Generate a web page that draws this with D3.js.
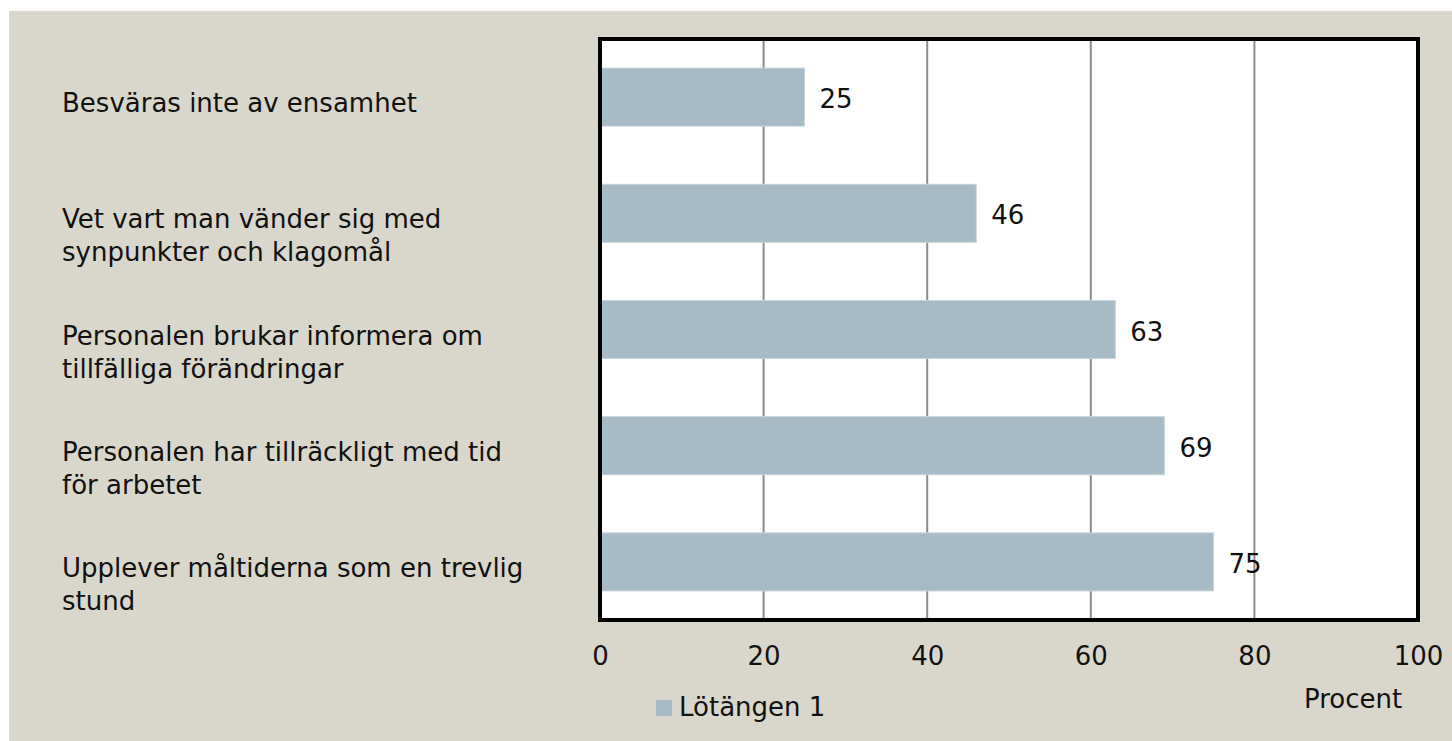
<!DOCTYPE html>
<html>
<head>
<meta charset="utf-8">
<script src="https://cdn.jsdelivr.net/npm/d3@7"></script>
<style>
  body { margin: 0; background: #fff; }
  svg text { font-family: 'DejaVu Sans', sans-serif; fill: #111; }
</style>
</head>
<body>
<svg id="chart" width="1452" height="741"></svg>
<script>
const categories = [
  'Besväras inte av ensamhet',
  'Vet vart man vänder sig med\nsynpunkter och klagomål',
  'Personalen brukar informera om\ntillfälliga förändringar',
  'Personalen har tillräckligt med tid\nför arbetet',
  'Upplever måltiderna som en trevlig\nstund'
];
const values = [25, 46, 63, 69, 75];
const tickValues = [0, 20, 40, 60, 80, 100];
const seriesName = 'Lötängen 1';
const axisTitle = 'Procent';

const svg = d3.select('#chart');
const fontSize = 26;

// beige panel
svg.append('rect')
  .attr('x', 9).attr('y', 11)
  .attr('width', 1452 - 9).attr('height', 741 - 11)
  .attr('fill', '#d9d7cb');

const plot = { left: 600, right: 1418, top: 39, bottom: 620 };

const x = d3.scaleLinear().domain([0, 100]).range([plot.left, plot.right]);
const y = d3.scaleBand()
  .domain(categories)
  .range([plot.top, plot.bottom])
  .paddingInner(0.5)
  .paddingOuter(0.25);

svg.append('rect')
  .attr('x', plot.left).attr('y', plot.top)
  .attr('width', plot.right - plot.left).attr('height', plot.bottom - plot.top)
  .attr('fill', '#fff');

// gridlines
svg.append('g')
  .selectAll('line')
  .data(tickValues.filter((d) => d > 0 && d < 100))
  .join('line')
  .attr('x1', (d) => x(d)).attr('x2', (d) => x(d))
  .attr('y1', plot.top).attr('y2', plot.bottom)
  .attr('stroke', '#8c8c8c')
  .attr('stroke-width', 2);

// bars
svg.append('g')
  .selectAll('rect')
  .data(values)
  .join('rect')
  .attr('x', x(0))
  .attr('y', (d, i) => y(categories[i]))
  .attr('width', (d) => x(d) - x(0))
  .attr('height', y.bandwidth())
  .attr('fill', '#a7bbc6')
  .attr('stroke', '#c9d5db')
  .attr('stroke-width', 1);

// frame
svg.append('rect')
  .attr('x', plot.left).attr('y', plot.top)
  .attr('width', plot.right - plot.left).attr('height', plot.bottom - plot.top)
  .attr('fill', 'none')
  .attr('stroke', '#000')
  .attr('stroke-width', 4);

// value labels
svg.append('g')
  .selectAll('text')
  .data(values)
  .join('text')
  .attr('x', (d) => x(d) + 15)
  .attr('y', (d, i) => y(categories[i]) + y.bandwidth() / 2 + 11)
  .style('font-size', fontSize + 'px')
  .text((d) => d);

// category labels
const cat = svg.append('g')
  .selectAll('text')
  .data(categories)
  .join('text')
  .attr('x', 62)
  .attr('y', (d) => y(d) + y.bandwidth() / 2 + 15)
  .style('font-size', fontSize + 'px');

cat.selectAll('tspan')
  .data((d) => d.split('\n'))
  .join('tspan')
  .attr('x', 62)
  .attr('dy', (d, i) => (i === 0 ? 0 : 33))
  .text((d) => d);

// x axis
const xAxis = svg.append('g')
  .attr('transform', `translate(0,${plot.bottom})`)
  .call(d3.axisBottom(x).tickValues(tickValues).tickSize(0).tickPadding(27));
xAxis.select('.domain').remove();
xAxis.selectAll('text')
  .style('font-size', fontSize + 'px')
  .style('font-family', "'DejaVu Sans', sans-serif")
  .attr('fill', '#111');

svg.append('text')
  .attr('x', 1304)
  .attr('y', 708)
  .style('font-size', fontSize + 'px')
  .text(axisTitle);

// legend
svg.append('rect')
  .attr('x', 656).attr('y', 700)
  .attr('width', 16).attr('height', 16)
  .attr('fill', '#a7bbc6');
svg.append('text')
  .attr('x', 679)
  .attr('y', 716)
  .style('font-size', fontSize + 'px')
  .text(seriesName);
</script>
</body>
</html>
